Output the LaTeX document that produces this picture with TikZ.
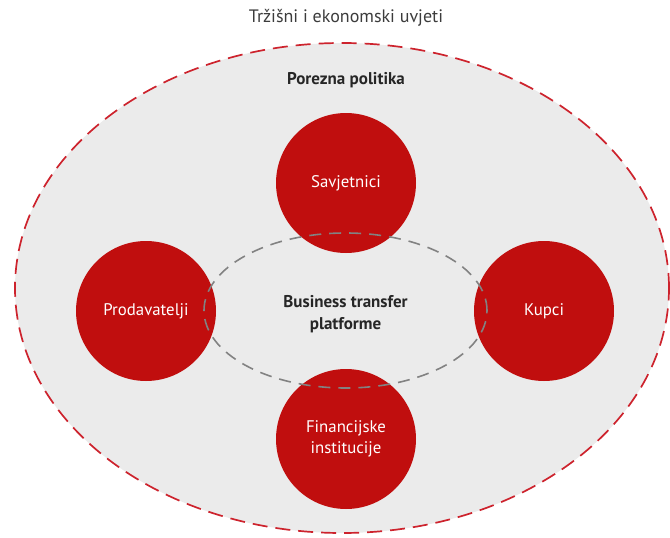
\documentclass[tikz,border=0pt]{standalone}
\usepackage{fontspec}
\setmainfont{PT Sans}
\usetikzlibrary{shapes.geometric}
\definecolor{bgfill}{RGB}{235,235,235}
\definecolor{reddash}{RGB}{205,35,45}
\definecolor{redfill}{RGB}{192,14,14}
\definecolor{graydash}{RGB}{130,130,130}
\definecolor{txtgray}{RGB}{60,60,60}
\begin{document}
\begin{tikzpicture}[x=1pt,y=-1pt,
  actor/.style={circle,fill=redfill,minimum size=140pt,inner sep=0pt,text=white,font=\fontsize{16.8}{21}\selectfont,align=center},
  lbl/.style={font=\fontsize{17}{22}\selectfont\bfseries,text=black!85,align=center}]
\useasboundingbox (0,0) rectangle (670,538);
\node[ellipse,minimum width=654pt,minimum height=490pt,fill=bgfill,draw=reddash,line width=1.7pt,dash pattern=on 15pt off 8pt,inner sep=0pt] (outer) at (342,288) {};
\node[font=\fontsize{18}{22}\selectfont,text=txtgray] (title) at (346,18) {Tržišni i ekonomski uvjeti};
\node[lbl] (porez) at (346,80) {Porezna politika};
\node[actor] (sav) at (346,183) {Savjetnici};
\node[actor] (pro) at (146,311) {Prodavatelji};
\node[actor] (kup) at (544,311) {Kupci};
\node[actor] (fin) at (346,439) {Financijske\\institucije};
\node[ellipse,minimum width=283pt,minimum height=155pt,draw=graydash,line width=1.6pt,dash pattern=on 12pt off 8pt,inner sep=0pt] (plat) at (345.5,310.5) {};
\node[lbl] (bt) at (345.5,314) {Business transfer\\platforme};
\end{tikzpicture}
\end{document}
